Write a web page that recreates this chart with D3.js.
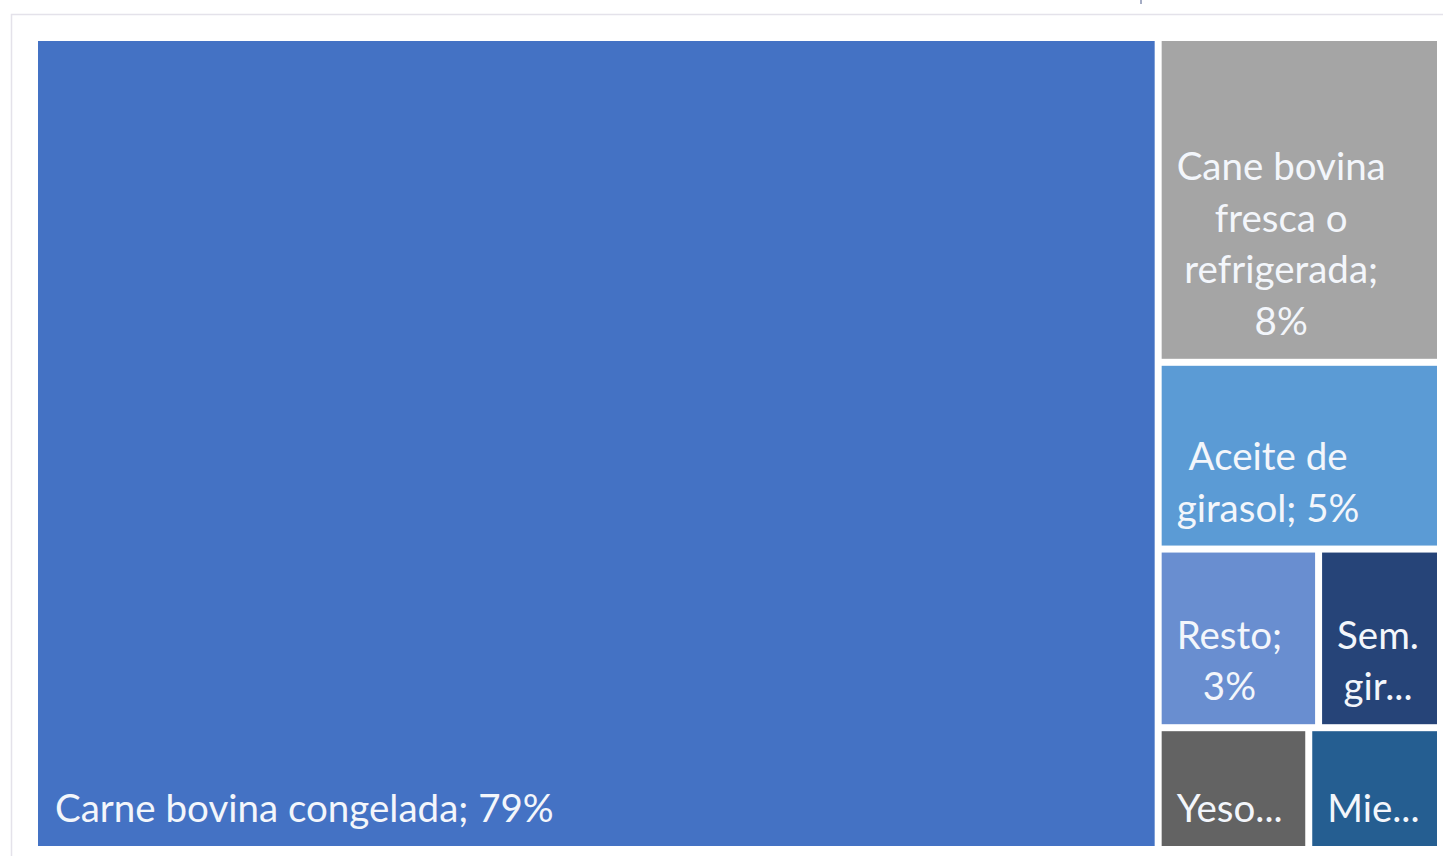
<!DOCTYPE html>
<html>
<head>
<meta charset="utf-8">
<script src="https://cdn.jsdelivr.net/npm/d3@7"></script>
<style>
  html, body { margin: 0; padding: 0; background: #ffffff; }
  svg { display: block; }
  text { font-family: Lato, "Open Sans", sans-serif; }
</style>
</head>
<body>
<svg id="chart" width="1443" height="856"></svg>
<script>
// ---- data ----
const names = ["Carne bovina congelada", "Cane bovina fresca o refrigerada", "Aceite de girasol", "Resto", "Semillas de girasol", "Yeso", "Miel"];
const values = [79.6, 8.0, 4.6, 2.5, 1.9, 1.6, 1.4];
const labelLines = [
  ["Carne bovina congelada; 79%"],
  ["Cane bovina", "fresca o", "refrigerada;", "8%"],
  ["Aceite de", "girasol; 5%"],
  ["Resto;", "3%"],
  ["Sem.", "gir..."],
  ["Yeso..."],
  ["Mie..."]
];
const colors = ["#4472C4", "#A5A5A5", "#5B9BD5", "#698ED0", "#264478", "#636363", "#255E91"];

// ---- layout ----
const svg = d3.select("#chart");
const W = 1443, H = 856;
const area = { x: 38, y: 41, w: 1399, h: 805 };

// faint outer frame
svg.append("rect")
  .attr("x", 11.5).attr("y", 14.5)
  .attr("width", W).attr("height", H)
  .attr("fill", "none")
  .attr("stroke", "#e4e2ea")
  .attr("stroke-width", 1.5);

const rootData = { name: "root", children: names.map((n, i) => ({ name: n, value: values[i], idx: i })) };
const root = d3.hierarchy(rootData).sum(d => d.value || 0).sort((a, b) => b.value - a.value);

d3.treemap()
  .tile(d3.treemapSquarify.ratio(1))
  .size([area.w, area.h])
  .paddingInner(7)(root);

const g = svg.append("g").attr("transform", `translate(${area.x},${area.y})`);

const leaves = g.selectAll("g.leaf")
  .data(root.leaves())
  .join("g")
  .attr("class", "leaf");

leaves.append("rect")
  .attr("x", d => d.x0)
  .attr("y", d => d.y0)
  .attr("width", d => d.x1 - d.x0)
  .attr("height", d => d.y1 - d.y0)
  .attr("fill", d => colors[d.data.idx]);

const fontSize = 38.5;
const lineH = 51.5;
const bottomOffset = 24;
const leftPad = 15;

leaves.each(function(d) {
  const lines = labelLines[d.data.idx];
  const isMain = d.data.idx === 0;
  const lastY = d.y1 - bottomOffset;
  const t = d3.select(this).append("text")
    .attr("fill", "#f3f6fb")
    .attr("font-size", fontSize)
    .attr("text-anchor", "middle");
  const spans = lines.map((ln, i) => t.append("tspan")
      .attr("y", lastY - (lines.length - 1 - i) * lineH)
      .text(ln));
  // block starts at left padding; lines centred on the widest line
  const widths = spans.map(s => s.node().getComputedTextLength());
  const maxW = d3.max(widths);
  const left = d.x0 + (isMain ? 17 : leftPad);
  spans.forEach(s => s.attr("x", left + maxW / 2));
});

// tiny mark at the top edge
svg.append("line")
  .attr("x1", 1141).attr("x2", 1141)
  .attr("y1", 0).attr("y2", 4)
  .attr("stroke", "#4a5a8a").attr("stroke-width", 1);
</script>
</body>
</html>
